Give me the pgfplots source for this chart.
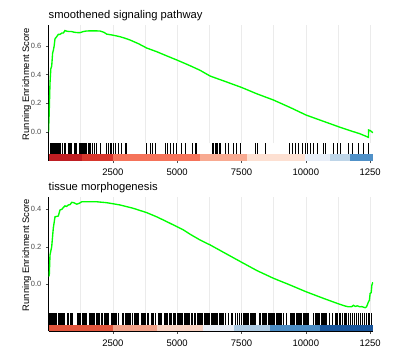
\documentclass[border=0pt]{standalone}
\usepackage{pgfplots}
\pgfplotsset{compat=1.18}
\usepackage{fontspec}
\setmainfont{Liberation Sans}
\definecolor{gsgreen}{RGB}{0,255,0}
\definecolor{gridgray}{RGB}{235,235,235}
\definecolor{ticklab}{RGB}{77,77,77}
\definecolor{ta}{RGB}{190,30,35}
\definecolor{tb}{RGB}{215,55,45}
\definecolor{tc}{RGB}{245,115,90}
\definecolor{td}{RGB}{248,170,145}
\definecolor{te}{RGB}{253,224,210}
\definecolor{tf}{RGB}{232,238,248}
\definecolor{tg}{RGB}{190,213,232}
\definecolor{th}{RGB}{80,145,200}
\definecolor{ba}{RGB}{225,85,60}
\definecolor{bb}{RGB}{240,160,135}
\definecolor{bc}{RGB}{246,208,192}
\definecolor{bd}{RGB}{230,236,245}
\definecolor{be}{RGB}{170,200,225}
\definecolor{bf}{RGB}{75,140,195}
\definecolor{bg}{RGB}{25,85,155}
\pgfplotsset{
  scoreaxis/.style={
    scale only axis, width=324.5bp, xmin=0, xmax=12610,
    axis x line*=bottom, axis y line*=left,
    x axis line style={draw=none},
    y axis line style={-, line width=0.6bp, black},
    xtick={2500,5000,7500,10000,12500},
    minor xtick={1250,3750,6250,8750,11250},
    xticklabels={}, xtick style={draw=none}, scaled x ticks=false,
    xmajorgrids, xminorgrids,
    major grid style={line width=0.6bp, gridgray},
    minor grid style={line width=0.6bp, gridgray},
    tick align=outside, major tick length=2.7bp,
    ytick style={line width=0.5bp, draw=ticklab},
    /pgf/number format/assume math mode=true,
    yticklabel style={font=\fontsize{7.5bp}{8bp}\selectfont, color=ticklab, anchor=east, inner sep=0pt, xshift=-4.2bp,
      /pgf/number format/fixed, /pgf/number format/fixed zerofill, /pgf/number format/precision=1},
  },
  rugaxis/.style={
    scale only axis, width=324.5bp, xmin=0, xmax=12610, ymin=0, ymax=1,
    axis x line*=bottom, axis y line*=left,
    axis line style={-, line width=0.6bp, black},
    ytick=\empty, scaled x ticks=false,
    xtick={2500,5000,7500,10000,12500},
    xticklabels={2500,5000,7500,10000,1250},
    tick align=outside, major tick length=2.7bp,
    xtick style={line width=0.5bp, draw=ticklab},
    xticklabel style={font=\fontsize{9.5bp}{10bp}\selectfont, black, anchor=north, inner sep=0pt, yshift=-5.5bp},
  },
}
\begin{document}
\begin{tikzpicture}
\useasboundingbox (0,0) rectangle (393bp,-347bp);
% ---------- top panel ----------
\node[anchor=base west, inner sep=0pt, font=\fontsize{11.2bp}{13bp}\selectfont] at (48.5bp,-18.5bp) {smoothened signaling pathway};
\node[rotate=90, inner sep=0pt, font=\fontsize{9.4bp}{11bp}\selectfont] at (26.7bp,-84bp) {Running Enrichment Score};
\begin{axis}[scoreaxis, at={(48.5bp,-25bp)}, anchor=north west, height=118.3bp,
  ymin=-0.0787, ymax=0.7456, ytick={0,0.2,0.4,0.6}]
\addplot[gsgreen, line width=1.35bp] coordinates {
(0,0.0) (25,0.12) (58,0.34) (90,0.44) (125,0.46) (160,0.55) (190,0.57) (220,0.60) (253,0.65) (300,0.66) (381,0.68) (450,0.68) (520,0.69) (580,0.69) (640,0.707) (700,0.703) (800,0.70) (900,0.70) (1000,0.695) (1100,0.693) (1225,0.692) (1350,0.70) (1485,0.704) (1700,0.705) (2000,0.704) (2150,0.695) (2263,0.682) (2500,0.675) (2780,0.664) (3000,0.652) (3169,0.641) (3500,0.615) (3818,0.585) (4200,0.56) (4600,0.53) (4984,0.502) (5502,0.462) (5890,0.43) (6279,0.39) (6900,0.35) (7511,0.31) (8100,0.266) (8741,0.223) (9400,0.17) (10012,0.118) (10600,0.08) (11267,0.037) (11800,0.005) (12100,-0.012) (12434,-0.037) (12440,0.014) (12500,0.01) (12608,-0.005)
};
\end{axis}
\begin{axis}[rugaxis, at={(48.5bp,-143.3bp)}, anchor=north west, height=17.2bp]
\addplot[fill=ta, draw=none] coordinates {(0,0) (1300,0) (1300,0.35) (0,0.35)} -- cycle;
\addplot[fill=tb, draw=none] coordinates {(1300,0) (2520,0) (2520,0.35) (1300,0.35)} -- cycle;
\addplot[fill=tc, draw=none] coordinates {(2520,0) (5890,0) (5890,0.35) (2520,0.35)} -- cycle;
\addplot[fill=td, draw=none] coordinates {(5890,0) (7700,0) (7700,0.35) (5890,0.35)} -- cycle;
\addplot[fill=te, draw=none] coordinates {(7700,0) (9970,0) (9970,0.35) (7700,0.35)} -- cycle;
\addplot[fill=tf, draw=none] coordinates {(9970,0) (10950,0) (10950,0.35) (9970,0.35)} -- cycle;
\addplot[fill=tg, draw=none] coordinates {(10950,0) (11720,0) (11720,0.35) (10950,0.35)} -- cycle;
\addplot[fill=th, draw=none] coordinates {(11720,0) (12610,0) (12610,0.35) (11720,0.35)} -- cycle;
\addplot[only marks, mark=|, mark size=5.6bp, mark options={line width=0.6bp, black}]
 table[x=x, y expr=0.675, row sep=\\] {
x\\ 58\\ 97\\ 136\\ 175\\ 214\\ 253\\ 292\\ 330\\ 382\\ 421\\ 473\\ 525\\ 616\\ 667\\ 771\\ 810\\ 862\\ 901\\ 991\\ 1043\\ 1095\\
1199\\ 1238\\ 1277\\ 1316\\ 1354\\ 1393\\ 1432\\ 1484\\ 1536\\ 1588\\ 1640\\ 1717\\ 1795\\ 1873\\ 2002\\ 2262\\ 2327\\ 2391\\ 2456\\ 2521\\ 2585\\ 2715\\ 2844\\ 2974\\ 3039\\
3817\\ 3947\\ 4050\\ 4141\\ 4530\\ 4620\\ 4724\\ 4854\\ 4984\\ 5178\\ 5307\\ 5605\\ 5696\\ 5761\\
6370\\ 6422\\ 6474\\ 6526\\ 6577\\ 6629\\ 6694\\ 6862\\ 6992\\ 7186\\ 7316\\ 7446\\ 8029\\ 8120\\ 8418\\
9364\\ 9455\\ 9585\\ 9714\\ 9844\\ 9974\\ 10039\\ 10168\\ 10298\\ 10427\\ 10661\\ 10752\\ 11076\\ 11205\\ 11335\\ 11659\\ 11788\\ 12047\\ 12242\\ 12436\\
};
\end{axis}
% ---------- bottom panel ----------
\node[anchor=base west, inner sep=0pt, font=\fontsize{11.2bp}{13bp}\selectfont] at (48.5bp,-190bp) {tissue morphogenesis};
\node[rotate=90, inner sep=0pt, font=\fontsize{9.4bp}{11bp}\selectfont] at (26.7bp,-255bp) {Running Enrichment Score};
\begin{axis}[scoreaxis, at={(48.5bp,-196.7bp)}, anchor=north west, height=116.6bp,
  ymin=-0.1547, ymax=0.467, ytick={0,0.2,0.4}]
\addplot[gsgreen, line width=1.35bp] coordinates {
(0,0.04) (31,0.05) (58,0.156) (124,0.2) (187,0.30) (220,0.33) (253,0.36) (320,0.362) (381,0.364) (447,0.396) (520,0.40) (580,0.41) (642,0.418) (700,0.415) (770,0.423) (840,0.425) (902,0.437) (980,0.435) (1096,0.427) (1200,0.432) (1291,0.44) (1500,0.44) (1874,0.44) (2263,0.435) (2780,0.423) (3297,0.405) (3818,0.382) (4200,0.36) (4596,0.334) (5241,0.29) (5502,0.267) (5890,0.236) (6279,0.21) (6900,0.163) (7511,0.117) (8100,0.073) (8741,0.032) (9390,-0.004) (10012,-0.04) (10684,-0.075) (11203,-0.101) (11528,-0.116) (11650,-0.12) (11789,-0.119) (11850,-0.112) (11920,-0.118) (12000,-0.115) (12100,-0.12) (12178,-0.119) (12306,-0.125) (12360,-0.12) (12435,-0.093) (12470,-0.085) (12500,-0.048) (12540,-0.045) (12566,-0.004) (12605,0.011)
};
\end{axis}
\begin{axis}[rugaxis, at={(48.5bp,-313.3bp)}, anchor=north west, height=17.7bp]
\addplot[fill=ba, draw=none] coordinates {(0,0) (2520,0) (2520,0.34) (0,0.34)} -- cycle;
\addplot[fill=bb, draw=none] coordinates {(2520,0) (4200,0) (4200,0.34) (2520,0.34)} -- cycle;
\addplot[fill=bc, draw=none] coordinates {(4200,0) (6020,0) (6020,0.34) (4200,0.34)} -- cycle;
\addplot[fill=bd, draw=none] coordinates {(6020,0) (7190,0) (7190,0.34) (6020,0.34)} -- cycle;
\addplot[fill=be, draw=none] coordinates {(7190,0) (8610,0) (8610,0.34) (7190,0.34)} -- cycle;
\addplot[fill=bf, draw=none] coordinates {(8610,0) (10560,0) (10560,0.34) (8610,0.34)} -- cycle;
\addplot[fill=bg, draw=none] coordinates {(10560,0) (12610,0) (12610,0.34) (10560,0.34)} -- cycle;
\addplot[only marks, mark=|, mark size=5.85bp, mark options={line width=0.7bp, black}]
 table[x=x, y expr=0.67, row sep=\\] {
x\\ 20\\ 60\\ 100\\ 140\\ 180\\ 220\\ 260\\ 300\\ 390\\ 430\\ 470\\ 510\\ 550\\ 590\\ 630\\ 750\\ 790\\ 830\\ 870\\ 910\\
1120\\ 1165\\ 1210\\ 1255\\ 1300\\ 1345\\ 1390\\ 1435\\ 1480\\ 1570\\ 1615\\ 1660\\ 1705\\ 1750\\ 1795\\ 1840\\ 1885\\ 1930\\ 1975\\ 2065\\ 2110\\ 2155\\ 2200\\ 2245\\ 2290\\ 2335\\ 2425\\ 2470\\ 2515\\ 2560\\ 2605\\ 2650\\ 2695\\
2880\\ 2925\\ 2970\\ 3015\\ 3060\\ 3105\\ 3150\\ 3195\\ 3240\\ 3330\\ 3375\\ 3420\\ 3465\\ 3510\\ 3600\\ 3645\\ 3690\\ 3735\\ 3780\\ 3830\\ 3875\\
4000\\ 4045\\ 4090\\ 4135\\ 4260\\ 4305\\ 4350\\ 4395\\ 4500\\ 4545\\ 4590\\ 4635\\ 4700\\ 4745\\ 4790\\ 4835\\ 4900\\ 4945\\ 4990\\ 5035\\ 5080\\ 5125\\ 5170\\ 5215\\ 5260\\ 5305\\ 5350\\ 5395\\ 5440\\ 5485\\ 5540\\ 5585\\
5680\\ 5725\\ 5770\\ 5815\\ 5860\\ 5905\\ 5950\\ 5995\\ 6040\\ 6085\\ 6130\\ 6175\\ 6220\\ 6265\\ 6310\\ 6355\\ 6400\\ 6445\\ 6490\\ 6535\\ 6580\\ 6625\\ 6670\\ 6715\\ 6760\\ 6805\\
6880\\ 6990\\ 7090\\ 7160\\ 7250\\ 7330\\ 7400\\ 7480\\ 7560\\ 7605\\ 7650\\ 7695\\ 7740\\ 7785\\ 7830\\ 7875\\ 7920\\ 7965\\ 8010\\ 8055\\
8180\\ 8240\\ 8300\\ 8345\\ 8390\\ 8435\\ 8480\\ 8525\\ 8570\\ 8615\\ 8660\\ 8705\\ 8750\\ 8795\\ 8840\\ 8885\\ 8930\\ 8975\\ 9020\\ 9065\\ 9110\\ 9250\\
9390\\ 9435\\ 9480\\ 9525\\ 9570\\ 9615\\ 9660\\ 9705\\ 9750\\ 9795\\ 9840\\ 9885\\ 9930\\ 9975\\ 10020\\ 10065\\ 10110\\ 10290\\
10360\\ 10405\\ 10450\\ 10495\\ 10540\\ 10585\\ 10630\\ 10675\\ 10720\\ 10765\\ 10810\\ 10930\\ 11020\\
11130\\ 11175\\ 11220\\ 11310\\ 11355\\ 11400\\ 11490\\ 11535\\ 11580\\ 11670\\ 11715\\ 11800\\ 11870\\ 11960\\ 12030\\ 12120\\ 12190\\ 12280\\ 12350\\ 12420\\ 12480\\ 12560\\
};
\end{axis}
\end{tikzpicture}
\end{document}
